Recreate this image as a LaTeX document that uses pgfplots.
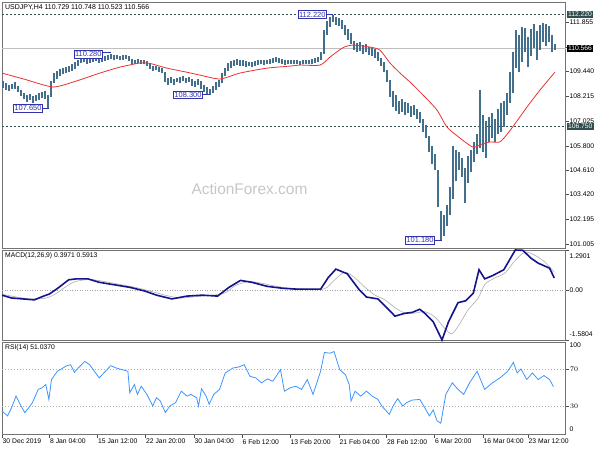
\documentclass[border=0pt]{standalone}
\usepackage{fontspec}
\setmainfont{Liberation Sans}
\usepackage{pgfplots}
\pgfplotsset{compat=1.18}
\definecolor{barcol}{RGB}{66,112,140}
\definecolor{macol}{RGB}{235,50,50}
\definecolor{macdcol}{RGB}{20,20,140}
\definecolor{sigcol}{RGB}{175,175,175}
\definecolor{rsicol}{RGB}{60,150,255}
\definecolor{dsg}{RGB}{47,79,79}
\definecolor{labcol}{RGB}{50,50,170}
\newcommand{\tf}{\fontsize{6.8}{8}\selectfont}
\tikzset{lab/.style={draw=labcol, text=labcol, fill=white, inner sep=1.2bp, line width=0.6bp, font=\fontsize{7.5}{8}\selectfont},
 rbox/.style={anchor=west, inner sep=1.3bp, text=white, font=\tf}}
\pgfplotsset{mtpanel/.style={scale only axis, width=563.5bp, xmin=2, xmax=565.5, clip=false,
  axis line style={draw=black!55, line width=0.8bp}, axis background/.style={fill=white},
  ytick pos=right, yticklabel pos=right, tick align=outside, major tick length=3bp,
  tick style={black!70, line width=0.5bp},
  yticklabel style={anchor=west, inner xsep=1bp, font=\tf}, anchor=north west}}
\begin{document}
\begin{tikzpicture}
\path[use as bounding box, fill=white] (0bp,0bp) rectangle (600bp,-450bp);
% ---------- main price panel ----------
\begin{axis}[mtpanel, at={(2bp,-2bp)}, height=246bp, ymin=100.809, ymax=112.833, xtick=\empty,
  ytick={101.005,102.195,103.420,104.610,105.800,107.025,108.215,109.440,110.630,111.855},
  yticklabels={101.005,102.195,103.420,104.610,105.800,107.025,108.215,109.440,,111.855}]
\node[anchor=west, text=black!22, font=\fontsize{15.5}{16}\selectfont] at (axis cs:188,103.69) {ActionForex.com};
\addplot[black!25, line width=0.6bp, forget plot] coordinates {(2,110.566) (565.5,110.566)};
\addplot[dsg, dash pattern=on 2bp off 2bp, line width=0.6bp, forget plot] coordinates {(2,112.22) (565.5,112.22)};
\addplot[dsg, dash pattern=on 2bp off 2bp, line width=0.6bp, forget plot] coordinates {(2,106.75) (565.5,106.75)};
\addplot[draw=none, mark=none, forget plot, error bars/.cd, y dir=plus, y explicit, error mark=none,
  error bar style={draw=barcol, line width=1.2bp}]
 table[x=x, y=l, y error expr=\thisrow{h}-\thisrow{l}] {
x l h
3 108.62 108.95
6 108.55 108.85
9 108.50 108.78
12 108.58 108.82
15 108.60 108.92
18 108.42 108.75
21 108.25 108.55
24 108.10 108.40
27 107.95 108.30
30 108.05 108.35
33 107.90 108.25
36 108.00 108.30
39 108.05 108.40
42 108.15 108.45
45 108.10 108.50
48 107.65 108.30
51 108.20 108.95
54 108.85 109.35
57 109.05 109.45
60 109.20 109.55
63 109.30 109.60
66 109.35 109.65
69 109.40 109.70
72 109.45 109.80
75 109.55 109.90
78 109.70 110.00
81 109.85 110.10
84 109.90 110.15
87 109.80 110.05
90 109.85 110.15
93 109.90 110.20
96 109.95 110.15
99 109.85 110.10
102 109.90 110.18
105 109.95 110.20
108 110.00 110.25
111 110.05 110.28
114 110.00 110.25
117 110.05 110.22
120 110.02 110.20
123 110.00 110.22
126 110.05 110.25
129 109.95 110.20
132 109.80 110.05
135 109.78 110.00
138 109.85 110.05
141 109.80 110.02
144 109.82 110.00
147 109.70 109.95
150 109.55 109.80
153 109.45 109.70
156 109.50 109.72
159 109.40 109.68
162 109.35 109.60
165 108.90 109.40
168 108.80 109.10
171 108.85 109.15
174 108.80 109.05
177 108.90 109.10
180 108.85 109.15
183 108.95 109.20
186 108.85 109.10
189 108.90 109.15
192 108.75 109.05
195 108.70 108.95
198 108.80 109.05
201 108.60 108.95
204 108.45 108.80
207 108.35 108.70
210 108.30 108.60
213 108.40 108.75
216 108.55 108.90
219 108.70 109.00
222 108.85 109.35
225 109.20 109.60
228 109.45 109.85
231 109.60 109.95
234 109.70 110.00
237 109.75 110.05
240 109.70 110.00
243 109.72 109.98
246 109.65 109.95
249 109.70 109.92
252 109.68 109.90
255 109.72 109.95
258 109.75 110.00
261 109.80 110.02
264 109.75 109.98
267 109.78 110.00
270 109.80 110.05
273 109.85 110.10
276 109.90 110.15
279 109.85 110.12
282 109.80 110.05
285 109.75 110.00
288 109.78 109.98
291 109.80 110.00
294 109.82 110.02
297 109.78 109.98
300 109.75 109.95
303 109.80 110.00
306 109.82 110.02
309 109.78 109.98
312 109.80 110.05
315 109.85 110.08
318 109.90 110.15
321 110.00 110.40
324 110.30 111.45
327 111.20 111.90
330 111.60 112.10
333 111.85 112.22
336 111.70 112.10
339 111.65 112.05
342 111.50 111.95
345 111.20 111.70
348 111.00 111.50
351 110.80 111.30
354 110.50 110.95
357 110.40 110.85
360 110.45 110.90
363 110.30 110.75
366 110.40 110.80
369 110.25 110.65
372 110.20 110.60
375 110.10 110.55
378 109.95 110.40
381 109.70 110.10
384 109.40 109.90
387 108.90 109.50
390 108.20 109.00
393 107.70 108.50
396 107.50 108.30
399 107.35 108.00
402 107.45 108.10
405 107.30 107.95
408 107.40 107.90
411 107.20 107.75
414 107.30 107.80
417 107.10 107.60
420 106.90 107.45
423 106.50 107.10
426 106.20 106.80
429 105.50 106.30
432 104.90 105.80
435 104.60 105.40
438 102.80 104.60
441 101.18 102.60
444 101.40 102.40
447 101.90 102.90
450 102.40 103.80
453 103.20 105.80
456 104.10 105.60
459 104.60 105.50
462 104.30 105.20
465 103.00 104.70
468 104.00 105.30
471 104.50 105.60
474 105.00 106.00
477 105.40 106.40
480 105.70 108.55
483 105.50 107.30
486 105.20 107.00
489 106.00 107.20
492 106.20 107.40
495 106.00 107.10
498 106.40 107.60
501 106.50 107.90
504 106.70 108.00
507 107.30 108.40
510 107.90 109.40
513 108.40 110.40
516 109.60 111.45
519 109.40 111.20
522 109.90 111.60
525 110.40 111.55
528 109.66 111.10
531 110.20 111.50
534 110.60 111.75
537 110.00 111.40
540 110.50 111.70
543 110.90 111.80
546 110.70 111.75
549 110.90 111.65
552 110.40 111.20
555 110.50 110.80
};
\addplot[macol, line width=0.8bp, smooth, tension=0.4, forget plot] coordinates {
(2,109.36) (25,109.05) (53,108.68) (75,108.95) (100,109.36) (120,109.65) (140,109.85) (150,109.83)
(167,109.60) (185,109.42) (200,109.26) (220,109.07) (240,109.36) (267,109.60) (290,109.70) (300,109.75)
(320,109.75) (330,110.14) (343,110.60) (353,110.73) (370,110.63) (380,110.48) (390,109.85) (400,109.36)
(410,108.92) (423,108.29) (437,107.55) (447,106.72) (460,106.18) (473,105.74) (482,105.89) (490,105.99)
(500,106.00) (510,106.55) (527,107.70) (540,108.53) (555,109.41)};
% annotations
\draw[labcol, line width=0.6bp] (axis cs:43,107.65) -- (axis cs:49,107.65);
\node[lab, anchor=east] at (axis cs:43,107.65) {107.650};
\draw[labcol, line width=0.6bp] (axis cs:103,110.36) -- (axis cs:111,110.36);
\node[lab, anchor=east] at (axis cs:103,110.28) {110.280};
\draw[labcol, line width=0.6bp] (axis cs:203,108.30) -- (axis cs:210,108.30);
\node[lab, anchor=east] at (axis cs:203,108.30) {108.300};
\draw[labcol, line width=0.6bp] (axis cs:327,112.22) -- (axis cs:333,112.22);
\node[lab, anchor=east] at (axis cs:327,112.22) {112.220};
\draw[labcol, line width=0.6bp] (axis cs:435,101.18) -- (axis cs:442,101.18);
\node[lab, anchor=east] at (axis cs:435,101.18) {101.180};
% right-side price boxes
\node[rbox, fill=dsg] at (axis cs:566.5,112.22) {112.220};
\node[rbox, fill=black] at (axis cs:566.5,110.566) {110.566};
\node[rbox, fill=dsg] at (axis cs:566.5,106.75) {106.750};
\node[anchor=west, inner sep=0pt, font=\fontsize{7}{8}\selectfont] at ([xshift=3bp,yshift=-6bp]rel axis cs:0,1) {USDJPY,H4 110.729 110.748 110.523 110.566};
\end{axis}
% ---------- MACD panel ----------
\begin{axis}[mtpanel, at={(2bp,-250bp)}, height=90bp, ymin=-1.5804, ymax=1.2901, xtick=\empty,
  ytick={-1.5804,0,1.2901}, yticklabels={,0.00,}]
\addplot[black!35, dash pattern=on 1bp off 1.5bp, line width=0.5bp, forget plot] coordinates {(2,0) (565.5,0)};
\addplot[sigcol, line width=0.6bp, smooth, tension=0.5, forget plot] coordinates {
(2,-0.12) (15,-0.20) (30,-0.27) (45,-0.25) (55,-0.12) (65,0.10) (75,0.28) (90,0.35) (105,0.28) (120,0.19)
(135,0.10) (150,-0.02) (165,-0.15) (180,-0.24) (195,-0.20) (210,-0.16) (225,-0.08) (235,0.15) (248,0.28)
(260,0.24) (275,0.14) (290,0.07) (310,0.04) (325,0.06) (335,0.35) (345,0.58) (355,0.40) (365,0.10)
(375,-0.15) (385,-0.30) (395,-0.55) (405,-0.72) (415,-0.72) (425,-0.68) (435,-0.85) (445,-1.22)
(452,-1.38) (460,-1.05) (468,-0.62) (478,-0.25) (485,0.20) (495,0.40) (505,0.56) (515,0.95) (525,1.22)
(535,1.12) (545,0.90) (554,0.59)};
\addplot[macdcol, line width=1.6bp, forget plot] coordinates {
(2,-0.15) (11.5,-0.24) (22.9,-0.27) (34.4,-0.30) (42,-0.20) (49.6,-0.11) (57.3,0.06) (68.7,0.34)
(76.3,0.37) (87.8,0.37) (99.2,0.26) (114.5,0.18) (129.8,0.10) (145,-0.02) (156.5,-0.15) (171.8,-0.27)
(187,-0.18) (202.3,-0.15) (217.6,-0.18) (229,0.10) (240.5,0.32) (251.9,0.26) (267.2,0.13) (282.4,0.07)
(297.7,0.04) (320.6,0.04) (328.2,0.41) (335.9,0.68) (347.3,0.53) (358.8,0.04) (366.4,-0.21) (377.9,-0.27)
(385.5,-0.51) (395,-0.82) (404.6,-0.73) (412.2,-0.70) (419.8,-0.60) (425.6,-0.75) (433.2,-1.00)
(442,-1.58) (448.5,-1.00) (458,-0.39) (465.6,-0.33) (473.3,-0.09) (479,0.66) (484.7,0.37) (492.4,0.47)
(503.8,0.66) (515.3,1.29) (522.9,1.28) (530.5,1.04) (538.2,0.87) (549.6,0.71) (554.2,0.40)};
\node[anchor=west, inner sep=0pt, font=\tf] at ([xshift=3bp,yshift=-6bp]rel axis cs:0,1) {MACD(12,26,9) 0.3971 0.5913};
\node[anchor=west, inner xsep=1bp, font=\tf] at ([xshift=3bp,yshift=-6bp]rel axis cs:1,1) {1.2901};
\node[anchor=west, inner xsep=1bp, font=\tf] at ([xshift=3bp,yshift=6bp]rel axis cs:1,0) {-1.5804};
\end{axis}
% ---------- RSI panel ----------
\begin{axis}[mtpanel, at={(2bp,-342bp)}, height=92bp, ymin=-0.3, ymax=99.2,
  ytick={30,70}, xtick pos=bottom, major tick length=3.5bp,
  xtick={2,49.5,97.5,145.5,194,242,290,339,386.5,434.5,483,528},
  xticklabels={30 Dec 2019,8 Jan 04:00,15 Jan 12:00,22 Jan 20:00,30 Jan 04:00,6 Feb 12:00,13 Feb 20:00,21 Feb 04:00,28 Feb 12:00,6 Mar 20:00,16 Mar 04:00,23 Mar 12:00},
  xticklabel style={anchor=north west, inner xsep=0.5bp, inner ysep=1.5bp, font=\tf}]
\addplot[black!30, dash pattern=on 1.5bp off 1.5bp, line width=0.5bp, forget plot] coordinates {(2,70) (565.5,70)};
\addplot[black!30, dash pattern=on 1.5bp off 1.5bp, line width=0.5bp, forget plot] coordinates {(2,30) (565.5,30)};
\addplot[rsicol, line width=0.8bp, forget plot] coordinates {
(1.9,24.6) (7.6,19.3) (11.5,28) (16,40.7) (21,30) (24.8,22.9) (28.6,28) (32.4,33.6) (38.2,47.9) (42,49.6)
(45.8,53.2) (48.9,37) (51.5,58.6) (57.3,67.5) (66.8,73.6) (70.6,74.6) (74.4,66.4) (78.2,71) (84.7,78.2)
(89.7,74.6) (99.2,60.4) (110.7,73.6) (116.4,71) (122.1,69.3) (127.9,67.5) (129.8,44.3) (134.4,53.2)
(137.4,42.5) (141.2,51.4) (146.9,42.5) (152.7,30) (156.5,39) (160.3,35.4) (165.3,22.9) (169.8,30)
(175.6,33.6) (181.3,46) (187,40.7) (190.8,42.5) (196.6,39) (198.5,30) (201.5,48.6) (206.1,40.7)
(209.2,31.8) (213.7,42.5) (219.5,47.9) (225.2,65.7) (232.8,71) (238.5,72.1) (244.3,74.6) (250,62.1)
(255.7,60.4) (261.5,55) (267.2,59.3) (272.9,56.8) (280.5,69.3) (284.4,46) (290.1,49.6) (295.8,51.4)
(301.5,47.9) (307.3,58.6) (313,42.5) (320.6,67.5) (324.4,87.9) (330.2,87.1) (334,88.9) (339.7,69.3)
(345.4,63.9) (349.2,53.2) (351.1,35.4) (355,46) (360.7,40.7) (366.4,46) (372.1,40.7) (377.9,37.1)
(381.7,30) (389.3,21) (393.1,30) (397.7,37.9) (402.7,30) (406.5,33.6) (412.2,36.4) (419.8,37.1)
(423.7,30) (429.4,19.3) (433.2,25.7) (437,13.9) (440.8,11.4) (445.8,42.5) (452.3,55) (458,47.9)
(463.7,42.5) (469.5,55) (477.1,67.5) (484.7,47.9) (492.4,55) (500,60.4) (507.6,67.5) (513.4,77.1)
(517.2,65.7) (521,70) (526.7,58.6) (532.4,65.7) (538.2,58.6) (543.9,62.9) (549.6,58.6) (553.4,51.0)};
\node[anchor=west, inner sep=0pt, font=\tf] at ([xshift=3bp,yshift=-6bp]rel axis cs:0,1) {RSI(14) 51.0370};
\node[anchor=west, inner xsep=1bp, font=\tf] at ([xshift=3bp,yshift=-3bp]rel axis cs:1,1) {100};
\node[anchor=west, inner xsep=1bp, font=\tf] at ([xshift=3bp,yshift=5bp]rel axis cs:1,0) {0};
\end{axis}
\end{tikzpicture}
\end{document}
